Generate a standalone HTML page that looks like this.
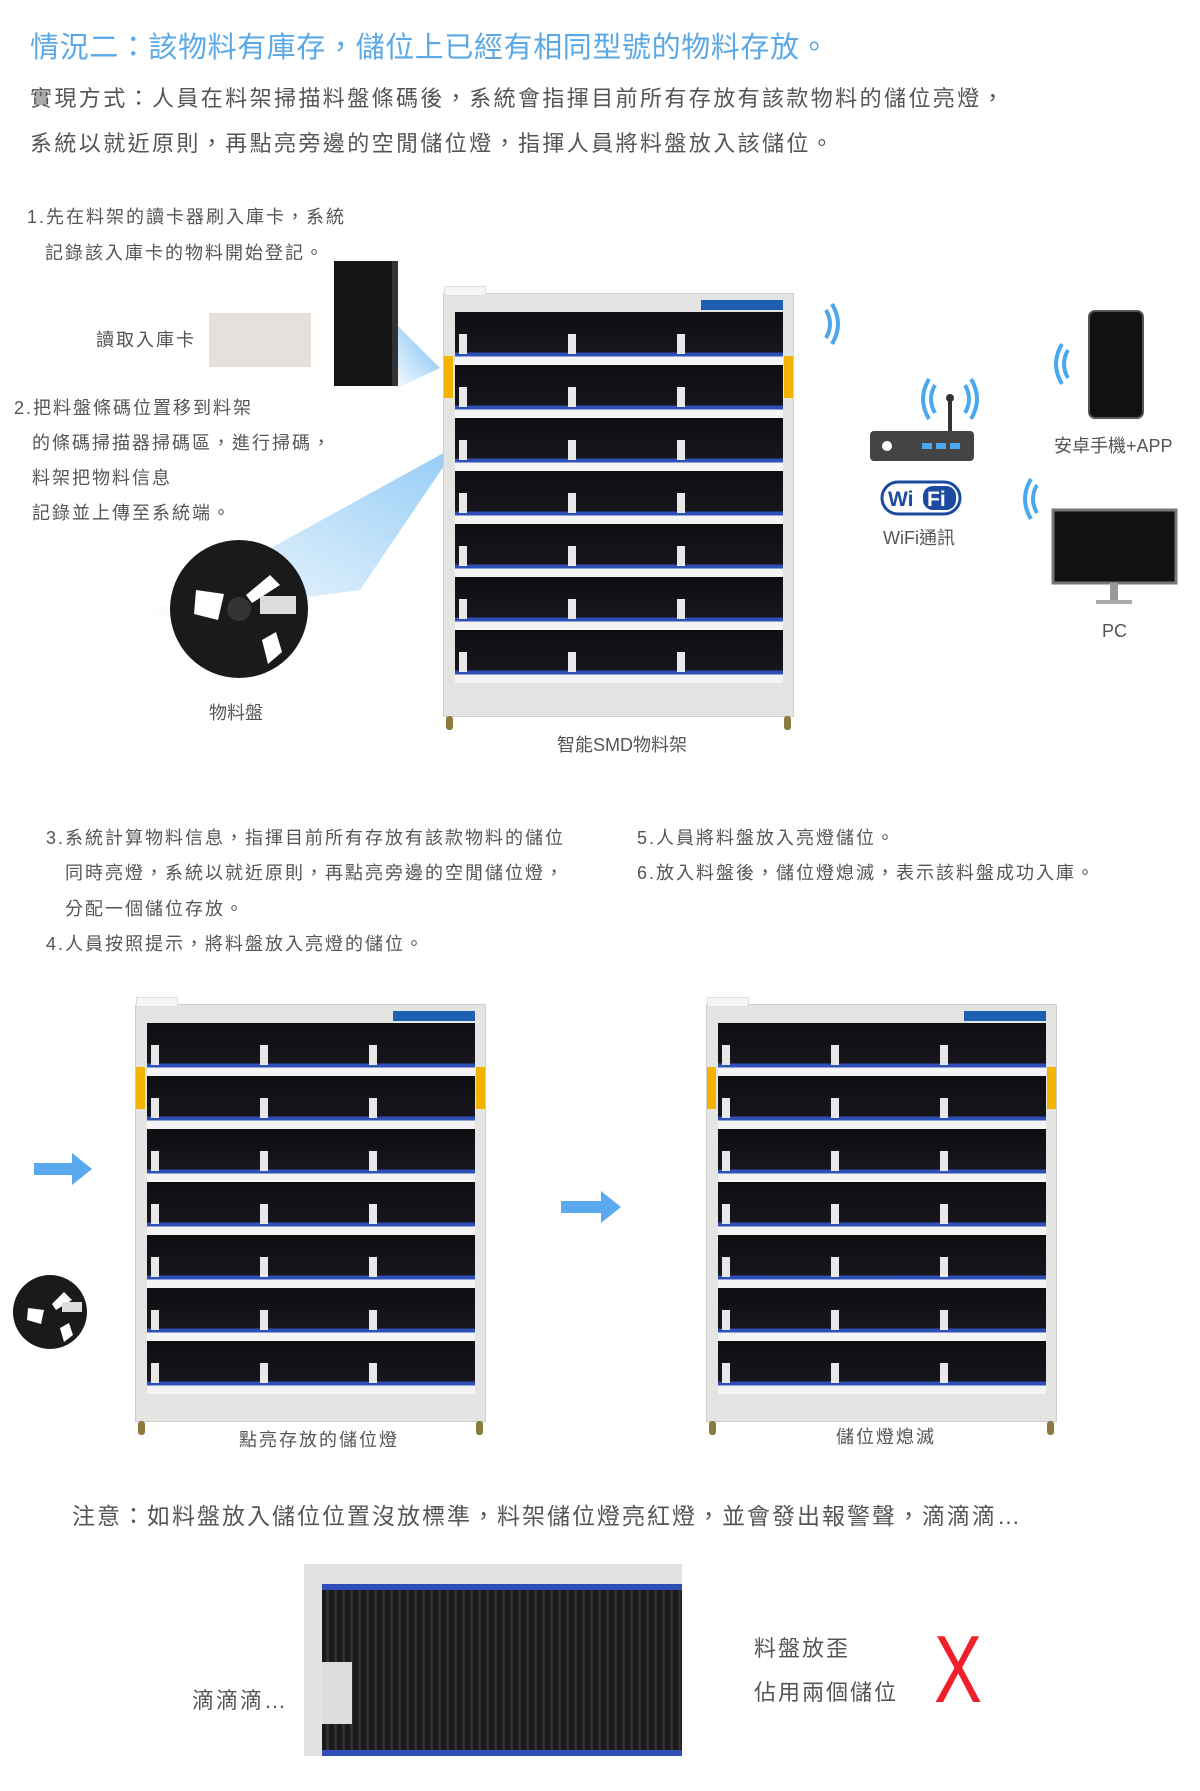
<!DOCTYPE html>
<html><head><meta charset="utf-8"><style>
body{margin:0;width:1200px;height:1791px;background:#fff;position:relative;overflow:hidden;font-family:"Liberation Sans","Noto Sans CJK TC",sans-serif;color:#555}
.t{position:absolute;white-space:nowrap;line-height:1}
.s{letter-spacing:2px}
.rack{position:absolute;width:351px;height:426px;background:#e4e4e2;border:1px solid #d0d0d0;box-sizing:border-box}
.rack .in{position:absolute;left:11px;top:18px;width:328px;height:371px;
background:
linear-gradient(to bottom,transparent 22px,#e8e8e8 22px,#e8e8e8 42px,transparent 42px) 4px 0/8px 53px repeat-y,
linear-gradient(to bottom,transparent 22px,#e8e8e8 22px,#e8e8e8 42px,transparent 42px) 113px 0/8px 53px repeat-y,
linear-gradient(to bottom,transparent 22px,#e8e8e8 22px,#e8e8e8 42px,transparent 42px) 222px 0/8px 53px repeat-y,
repeating-linear-gradient(to bottom,#0d0d12 0,#16161c 40px,#2f4fb8 41px,#2f4fb8 44px,#f4f4f4 45px,#f4f4f4 53px)}
.rack .ctl{position:absolute;right:10px;top:6px;width:82px;height:10px;background:#1d5fb0}
.rack .tag{position:absolute;top:62px;width:9px;height:42px;background:#f2b400}
.rack .lg{position:absolute;bottom:-14px;width:7px;height:14px;background:#8a7a40;border-radius:3px}
.rack .top{position:absolute;left:0;top:-8px;width:40px;height:8px;border:1px solid #ddd;background:#f5f5f5}
</style></head><body>
<div class="t" style="left:30px;top:34px;font-size:29px;color:#5aa9e6;letter-spacing:.6px">情況二：該物料有庫存，儲位上已經有相同型號的物料存放。</div>
<div class="t" style="left:30px;top:88px;font-size:22px;letter-spacing:2.4px">實現方式：人員在料架掃描料盤條碼後，系統會指揮目前所有存放有該款物料的儲位亮燈，</div>
<div class="t" style="left:30px;top:133px;font-size:22px;letter-spacing:2.4px">系統以就近原則，再點亮旁邊的空閒儲位燈，指揮人員將料盤放入該儲位。</div>

<div class="t s" style="left:27px;top:208px;font-size:18px">1.先在料架的讀卡器刷入庫卡，系統</div>
<div class="t s" style="left:45px;top:244px;font-size:18px">記錄該入庫卡的物料開始登記。</div>
<div class="t s" style="left:96px;top:331px;font-size:18px">讀取入庫卡</div>
<div style="position:absolute;left:209px;top:313px;width:102px;height:54px;background:#e6e0dc"></div>
<svg style="position:absolute;left:0;top:0" width="1200" height="800">
<defs><linearGradient id="b1" x1="1" y1="0" x2="0" y2="1"><stop offset="0" stop-color="#4aa8f0"/><stop offset="1" stop-color="#4aa8f0" stop-opacity="0"/></linearGradient></defs>
<polygon points="392,320 440,368 392,390" fill="url(#b1)" opacity=".8"/>
<polygon points="458,445 140,620 360,590" fill="url(#b1)" opacity=".6"/>
<g fill="none" stroke="#4aa8f0" stroke-width="4">
<path d="M826,310 q8,14 0,28"/><path d="M832,304 q12,20 0,40"/>
<path d="M1068,350 q-8,14 0,28"/><path d="M1062,344 q-12,20 0,40"/>
<path d="M1037,485 q-8,14 0,28"/><path d="M1031,479 q-12,20 0,40"/>
<path d="M935,385 q-8,14 0,28"/><path d="M929,379 q-12,20 0,40"/>
<path d="M965,385 q8,14 0,28"/><path d="M971,379 q12,20 0,40"/>
</g>
<line x1="950" y1="400" x2="950" y2="432" stroke="#333" stroke-width="4"/><circle cx="950" cy="398" r="4" fill="#333"/>
<rect x="870" y="431" width="104" height="30" rx="4" fill="#444"/>
<circle cx="887" cy="446" r="5" fill="#fff"/>
<rect x="922" y="443" width="10" height="6" fill="#4aa8f0"/><rect x="936" y="443" width="10" height="6" fill="#4aa8f0"/><rect x="950" y="443" width="10" height="6" fill="#4aa8f0"/>
<rect x="882" y="482" width="78" height="32" rx="16" fill="#fff" stroke="#1c4aa0" stroke-width="3"/>
<rect x="923" y="486" width="33" height="24" rx="10" fill="#1c4aa0"/>
<text x="888" y="506" font-family="Liberation Sans" font-weight="bold" font-size="21" fill="#1c4aa0">Wi</text>
<text x="927" y="506" font-family="Liberation Sans" font-weight="bold" font-size="21" fill="#fff">Fi</text>
<rect x="1089" y="311" width="54" height="107" rx="6" fill="#111" stroke="#555" stroke-width="2"/>
<rect x="1053" y="510" width="123" height="73" fill="#111" stroke="#777" stroke-width="3"/>
<rect x="1110" y="583" width="8" height="18" fill="#999"/><rect x="1096" y="600" width="36" height="4" fill="#aaa"/>
<circle cx="239" cy="609" r="69" fill="#1a1a1a"/>
<circle cx="239" cy="609" r="12" fill="#333"/>
<path d="M196,590 l28,4 -6,26 -24,-6z M270,575 l10,10 -28,18 -6,-8z M262,640 l14,-8 6,20 -14,12z" fill="#fff"/>
<rect x="260" y="596" width="36" height="18" fill="#ddd"/>
</svg>
<div style="position:absolute;left:334px;top:261px;width:58px;height:125px;background:#151515;border-right:6px solid #333"></div>

<div class="t s" style="left:14px;top:399px;font-size:18px">2.把料盤條碼位置移到料架</div>
<div class="t s" style="left:32px;top:434px;font-size:18px">的條碼掃描器掃碼區，進行掃碼，</div>
<div class="t s" style="left:32px;top:469px;font-size:18px">料架把物料信息</div>
<div class="t s" style="left:32px;top:504px;font-size:18px">記錄並上傳至系統端。</div>
<div class="t" style="left:209px;top:704px;font-size:18px">物料盤</div>

<div class="rack" style="left:443px;top:293px;height:424px"><div class="top"></div><div class="in"></div><div class="ctl"></div><div class="tag" style="left:0"></div><div class="tag" style="right:0"></div><div class="lg" style="left:2px"></div><div class="lg" style="right:2px"></div></div>
<div class="t" style="left:557px;top:736px;font-size:18px">智能SMD物料架</div>
<div class="t" style="left:883px;top:529px;font-size:18px">WiFi通訊</div>
<div class="t" style="left:1054px;top:437px;font-size:18px">安卓手機+APP</div>
<div class="t" style="left:1102px;top:622px;font-size:18px">PC</div>

<div class="t s" style="left:46px;top:829px;font-size:18px">3.系統計算物料信息，指揮目前所有存放有該款物料的儲位</div>
<div class="t s" style="left:65px;top:864px;font-size:18px">同時亮燈，系統以就近原則，再點亮旁邊的空閒儲位燈，</div>
<div class="t s" style="left:65px;top:900px;font-size:18px">分配一個儲位存放。</div>
<div class="t s" style="left:46px;top:935px;font-size:18px">4.人員按照提示，將料盤放入亮燈的儲位。</div>
<div class="t s" style="left:637px;top:829px;font-size:18px">5.人員將料盤放入亮燈儲位。</div>
<div class="t s" style="left:637px;top:864px;font-size:18px">6.放入料盤後，儲位燈熄滅，表示該料盤成功入庫。</div>

<div class="rack" style="left:135px;top:1004px;height:418px"><div class="top"></div><div class="in"></div><div class="ctl"></div><div class="tag" style="left:0"></div><div class="tag" style="right:0"></div><div class="lg" style="left:2px"></div><div class="lg" style="right:2px"></div></div>
<div class="rack" style="left:706px;top:1004px;height:418px"><div class="top"></div><div class="in"></div><div class="ctl"></div><div class="tag" style="left:0"></div><div class="tag" style="right:0"></div><div class="lg" style="left:2px"></div><div class="lg" style="right:2px"></div></div>
<svg style="position:absolute;left:0;top:1140px" width="700" height="220">
<polygon points="34,23 72,23 72,13 92,29 72,45 72,35 34,35" fill="#5aa9ef"/>
<polygon points="561,61 601,61 601,51 621,67 601,83 601,73 561,73" fill="#5aa9ef"/>
<circle cx="50" cy="172" r="37" fill="#1a1a1a"/>
<path d="M28,168 l16,2 -3,14 -14,-4z M64,152 l8,8 -16,10 -4,-6z M60,188 l9,-5 4,12 -9,7z" fill="#fff"/>
<rect x="62" y="162" width="20" height="10" fill="#ddd"/>
</svg>
<div class="t s" style="left:239px;top:1431px;font-size:18px">點亮存放的儲位燈</div>
<div class="t s" style="left:836px;top:1428px;font-size:18px">儲位燈熄滅</div>

<div class="t" style="left:72px;top:1505px;font-size:23px;letter-spacing:2px">注意：如料盤放入儲位位置沒放標準，料架儲位燈亮紅燈，並會發出報警聲，滴滴滴…</div>
<div style="position:absolute;left:304px;top:1564px;width:378px;height:192px;background:#e2e2e2">
<div style="position:absolute;left:18px;top:20px;width:360px;height:160px;background:repeating-linear-gradient(to right,#1a1a1a 0,#1a1a1a 4px,#3a3a3a 5px,#1a1a1a 8px);border-top:6px solid #2f4fb8;border-bottom:6px solid #2f4fb8"></div>
<div style="position:absolute;left:18px;top:98px;width:30px;height:62px;background:#ddd"></div>
</div>
<div class="t" style="left:192px;top:1690px;font-size:22px;letter-spacing:2px">滴滴滴…</div>
<div class="t" style="left:754px;top:1638px;font-size:22px;letter-spacing:2px">料盤放歪</div>
<div class="t" style="left:754px;top:1682px;font-size:22px;letter-spacing:2px">佔用兩個儲位</div>
<div class="t" style="left:934px;top:1622px;font-size:96px;color:#f0202a;transform:scaleX(.75);transform-origin:left top">X</div>
</body></html>
